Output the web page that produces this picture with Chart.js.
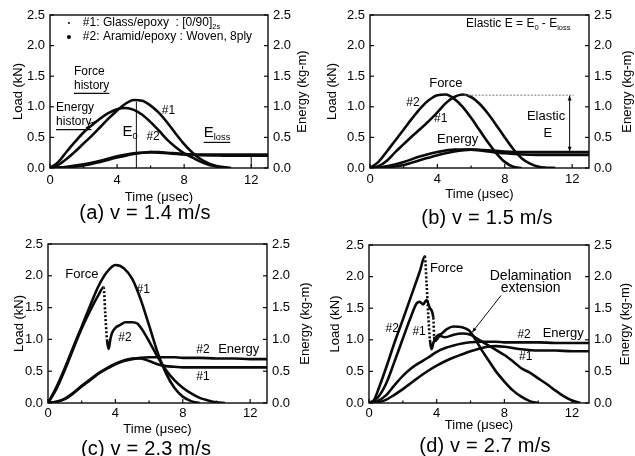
<!DOCTYPE html>
<html><head><meta charset="utf-8">
<script src="https://cdn.jsdelivr.net/npm/chart.js@4"></script>
<style>
html,body{margin:0;padding:0;background:#fff;}
body{width:635px;height:456px;position:relative;overflow:hidden;font-family:"Liberation Sans",Arial,Helvetica,sans-serif;}
canvas{position:absolute;}
.cap{position:absolute;font-size:20px;letter-spacing:0.2px;line-height:1;color:#000;white-space:nowrap;transform:translate(-50%,-50%);}
</style></head><body>
<canvas id="ca" width="318" height="205" style="left:0;top:0"></canvas>
<canvas id="cb" width="317" height="205" style="left:318px;top:0"></canvas>
<canvas id="cc" width="318" height="210" style="left:0;top:228px"></canvas>
<canvas id="cd" width="317" height="210" style="left:318px;top:228px"></canvas>
<div class="cap" style="left:145px;top:212px">(a) v = 1.4 m/s</div>
<div class="cap" style="left:487px;top:217px">(b) v = 1.5 m/s</div>
<div class="cap" style="left:146px;top:448px">(c) v = 2.3 m/s</div>
<div class="cap" style="left:485px;top:445px">(d) v = 2.7 m/s</div>
<script>
// ---------------- data (time in µsec, load in kN, energy in kg-m) ----------------
const xTickValues = [0, 4, 8, 12];
const xMinorTicks = [2, 6, 10];
const yTickValues = [0, 0.5, 1.0, 1.5, 2.0, 2.5];

// (a) v = 1.4 m/s
const tForceA  = [0,0.5,1,1.5,2,2.5,3,3.5,4,4.5,5,5.5,6,6.5,7,7.5,8,8.5,9,9.5,10,10.5,10.8];
const forceA1  = [0,0.05,0.15,0.27,0.40,0.53,0.67,0.81,0.94,1.05,1.11,1.10,1.02,0.90,0.74,0.56,0.39,0.25,0.14,0.07,0.03,0.01,0];
const forceA2  = [0,0.10,0.27,0.43,0.58,0.70,0.81,0.90,0.96,0.98,0.95,0.87,0.75,0.61,0.46,0.34,0.24,0.17,0.10,0.05,0.02,0,null];
const tEnergyA = [0,1,2,3,4,5,5.5,6,6.5,7,8,9,10,11,12,13];
const energyA1 = [0,0.01,0.04,0.10,0.17,0.23,0.25,0.26,0.26,0.25,0.23,0.22,0.22,0.22,0.22,0.22];
const energyA2 = [0,0.02,0.06,0.12,0.19,0.24,0.25,0.26,0.25,0.24,0.22,0.21,0.205,0.2,0.2,0.2];

// (b) v = 1.5 m/s
const tForceB  = [0,0.5,1,1.5,2,2.5,3,3.5,4,4.5,5,5.5,6,6.5,7,7.5,8,8.5,9,9.5,10,10.5,11];
const forceB1  = [0,0.03,0.12,0.26,0.39,0.52,0.64,0.77,0.91,1.06,1.16,1.20,1.16,1.05,0.89,0.70,0.50,0.31,0.16,0.07,0.02,0.005,0];
const forceB2  = [0,0.10,0.27,0.45,0.63,0.81,0.98,1.11,1.19,1.20,1.13,1.00,0.82,0.62,0.42,0.24,0.10,0.02,0,null,null,null,null];
const tEnergyB = [0,1,2,3,4,5,6,7,8,9,10,11,12,13];
const energyB1 = [0,0.01,0.05,0.13,0.21,0.27,0.30,0.29,0.27,0.26,0.26,0.26,0.26,0.26];
const energyB2 = [0,0.03,0.10,0.19,0.26,0.30,0.30,0.27,0.24,0.22,0.215,0.215,0.215,0.215];

// (c) v = 2.3 m/s
const tForceC1 = [0,0.5,1,1.5,2,2.5,3,3.5,4,4.5,5,5.5,6,6.5,7,7.5,8,8.5,9];
const forceC1  = [0,0.25,0.55,0.88,1.20,1.53,1.84,2.06,2.17,2.12,1.95,1.63,1.22,0.80,0.47,0.24,0.10,0.03,0];
const tForceC2 = [0,0.5,1,1.5,2,2.5,3,3.3,3.4,3.5,3.6,3.7,3.8,4,4.3,4.6,5,5.3,5.6,6,6.5,7,7.5,8,8.5,9,9.5,10,10.5];
const forceC2  = [0,0.22,0.52,0.85,1.17,1.45,1.70,1.82,1.40,1.00,0.85,1.00,1.10,1.18,1.23,1.27,1.27,1.25,1.15,0.97,0.73,0.52,0.36,0.24,0.15,0.08,0.04,0.01,0];
const tEnergyC = [0,0.5,1,1.5,2,2.5,3,3.5,4,4.5,5,5.5,6,6.5,7,7.5,8,9,10,11,12,13];
const energyC1 = [0,0.02,0.07,0.16,0.27,0.37,0.47,0.55,0.62,0.67,0.70,0.70,0.66,0.61,0.58,0.57,0.56,0.56,0.56,0.56,0.56,0.56];
const energyC2 = [0,0.02,0.06,0.15,0.26,0.36,0.46,0.54,0.61,0.66,0.69,0.71,0.72,0.72,0.72,0.72,0.71,0.71,0.70,0.70,0.69,0.69];

// (d) v = 2.7 m/s
const tForceD1 = [0,0.5,1,1.5,2,2.5,2.8,3,3.2,3.4,3.6,3.8,3.85,3.9,4.2,4.5,5,5.5,6,6.5,7,7.5,8,8.5,9,9.5,10,10.5,11,11.5,12,12.5];
const forceD1  = [0,0.08,0.30,0.65,1.02,1.38,1.57,1.60,1.56,1.63,1.50,1.35,1.05,0.98,1.06,1.04,1.08,1.10,1.08,1.00,0.92,0.84,0.76,0.66,0.55,0.48,0.39,0.30,0.20,0.11,0.04,0];
const tForceD2 = [0,0.3,0.6,1,1.5,2,2.5,3,3.3,3.4,3.5,3.6,3.7,3.8,4,4.3,4.6,5,5.5,5.9,6.3,6.7,7,7.5,8,8.5,9,9.5,10];
const forceD2  = [0,0.05,0.25,0.55,0.95,1.32,1.70,2.08,2.32,1.90,1.40,1.00,0.85,0.95,1.05,1.10,1.17,1.21,1.20,1.15,1.00,0.82,0.70,0.50,0.34,0.20,0.10,0.03,0];
const tEnergyD = [0,0.5,1,1.5,2,2.5,3,3.5,4,4.5,5,5.5,6,6.5,7,7.5,8,8.5,9,10,11,12,13];
const energyD1 = [0,0.01,0.05,0.13,0.22,0.32,0.42,0.51,0.59,0.66,0.72,0.77,0.82,0.86,0.89,0.90,0.89,0.87,0.85,0.83,0.83,0.82,0.82];
const energyD2 = [0,0.03,0.12,0.28,0.43,0.55,0.64,0.72,0.81,0.87,0.91,0.94,0.96,0.97,0.97,0.97,0.96,0.96,0.96,0.96,0.95,0.95,0.95];

// ---------------- annotations (data units) ----------------
const notesA = [
  {t:1.96, v:2.37, parts:[['#1: Glass/epoxy  : [0/90]'],['2s','sub']], size:12},
  {t:1.96, v:2.14, parts:[['#2: Aramid/epoxy : Woven, 8ply']], size:12},
  {t:1.43, v:1.57, parts:[['Force']], size:12},
  {t:1.43, v:1.34, parts:[['history']], size:12, underline:true},
  {t:0.36, v:0.98, parts:[['Energy']], size:12},
  {t:0.36, v:0.75, parts:[['history']], size:12, underline:true},
  {t:6.67, v:0.93, parts:[['#1']], size:12},
  {t:4.33, v:0.59, parts:[['E'],['0','sub']], size:15},
  {t:5.75, v:0.51, parts:[['#2']], size:12},
  {t:9.17, v:0.57, parts:[['E'],['loss','sub']], size:15, underline:true}
];
const dotsA = [{t:1.13, v:2.37, r:1}, {t:1.13, v:2.14, r:2}];
const linesA = [
  {pts:[[5.15,0],[5.15,1.08]], w:1},
  {pts:[[12,0],[12,0.21]], w:1},
  {pts:[[2.3,0.72],[2.9,0.78]], w:1}
];
const notesB = [
  {t:5.7, v:2.35, parts:[['Elastic E = E'],['0','sub'],[' - E'],['loss','sub']], size:12},
  {t:4.5, v:1.39, parts:[['Force']], size:13, align:'center'},
  {t:2.55, v:1.06, parts:[['#2']], size:12, align:'center'},
  {t:4.2, v:0.81, parts:[['#1']], size:12, align:'center'},
  {t:5.2, v:0.46, parts:[['Energy']], size:13, align:'center'},
  {t:10.45, v:0.84, parts:[['Elastic']], size:13, align:'center'},
  {t:10.55, v:0.57, parts:[['E']], size:13, align:'center'}
];
const linesB = [
  {pts:[[5.6,1.19],[12.1,1.19]], w:1, dash:[2,1.5], color:'#777'},
  {pts:[[11.85,0.27],[11.85,1.18]], w:1, arrows:true}
];
const notesC = [
  {t:1.03, v:2.02, parts:[['Force']], size:13},
  {t:5.26, v:1.78, parts:[['#1']], size:12},
  {t:4.17, v:1.02, parts:[['#2']], size:12},
  {t:8.8, v:0.84, parts:[['#2']], size:12},
  {t:10.1, v:0.84, parts:[['Energy']], size:13},
  {t:8.8, v:0.42, parts:[['#1']], size:12}
];
const notesD = [
  {t:3.6, v:2.13, parts:[['Force']], size:13},
  {t:9.55, v:2.0, parts:[['Delamination']], size:14, align:'center'},
  {t:9.55, v:1.81, parts:[['extension']], size:14, align:'center'},
  {t:1.37, v:1.18, parts:[['#2']], size:12, align:'center'},
  {t:2.96, v:1.13, parts:[['#1']], size:12, align:'center'},
  {t:8.77, v:1.08, parts:[['#2']], size:12},
  {t:10.26, v:1.10, parts:[['Energy']], size:13},
  {t:8.87, v:0.73, parts:[['#1']], size:12}
];
const linesD = [
  {pts:[[7.8,1.70],[6.1,1.12]], w:1, arrowEnd:true}
];

// ---------------- drawing ----------------
const FONT = '"Liberation Sans", Arial, Helvetica, sans-serif';
const INK = '#0a0a0a';
function fontStr(size){ return size + 'px ' + FONT; }
function pts(t, v){ const out=[]; t.forEach((x,i)=>{ if(v[i]!=null) out.push({x:x, y:v[i]}); }); return out; }
function steep(ctx){ const a=ctx.p0.parsed, b=ctx.p1.parsed; return (a.y-b.y)/(b.x-a.x) > 2.5; }
function curve(t, v, axis){
  return {data:pts(t,v), yAxisID:axis, borderColor:INK, borderWidth:2.6, pointRadius:0, fill:false,
    cubicInterpolationMode:'monotone', segment:{borderDash: ctx => steep(ctx) ? [2,2] : undefined}};
}

function drawParts(ctx, parts, x, y, size, align){
  const ws = parts.map(p => { ctx.font = fontStr(p[1]==='sub' ? size*0.62 : size); return ctx.measureText(p[0]).width; });
  const total = ws.reduce((a,b)=>a+b,0);
  let cx = align==='center' ? x - total/2 : x;
  const start = cx;
  ctx.textAlign='left'; ctx.textBaseline='middle';
  parts.forEach((p,i)=>{
    const sub = p[1]==='sub';
    ctx.font = fontStr(sub ? size*0.62 : size);
    ctx.fillText(p[0], cx, sub ? y + size*0.32 : y);
    cx += ws[i];
  });
  return {left:start, width:total};
}
function seg(ctx,x1,y1,x2,y2){ ctx.beginPath(); ctx.moveTo(x1,y1); ctx.lineTo(x2,y2); ctx.stroke(); }
function arrowHead(ctx, x1,y1,x2,y2){
  const ang=Math.atan2(y2-y1,x2-x1), L=5;
  ctx.beginPath(); ctx.moveTo(x2,y2);
  ctx.lineTo(x2-L*Math.cos(ang-0.4), y2-L*Math.sin(ang-0.4));
  ctx.lineTo(x2-L*Math.cos(ang+0.4), y2-L*Math.sin(ang+0.4));
  ctx.closePath(); ctx.fill();
}

function makeDecor(P){
  return {id:'decor', afterDraw(chart){
    const {ctx, chartArea:a} = chart; const x=chart.scales.x, y=chart.scales.y;
    ctx.save();
    ctx.strokeStyle=INK; ctx.fillStyle='#000';
    ctx.lineWidth=1.4;
    ctx.strokeRect(a.left, a.top, a.right-a.left, a.bottom-a.top);
    ctx.lineWidth=1.2;
    yTickValues.forEach(v=>{ const py=y.getPixelForValue(v); seg(ctx,a.left,py,a.left+4,py); seg(ctx,a.right-4,py,a.right,py); });
    xTickValues.forEach(v=>{ const px=x.getPixelForValue(v); seg(ctx,px,a.bottom,px,a.bottom-4); });
    xMinorTicks.forEach(v=>{ const px=x.getPixelForValue(v); seg(ctx,px,a.bottom,px,a.bottom-2.5); });
    (P.lines||[]).forEach(L=>{
      ctx.save(); ctx.lineWidth=L.w; ctx.strokeStyle=L.color||INK; ctx.fillStyle=L.color||INK;
      if(L.dash) ctx.setLineDash(L.dash);
      const p = L.pts.map(q=>[x.getPixelForValue(q[0]), y.getPixelForValue(q[1])]);
      ctx.beginPath(); ctx.moveTo(p[0][0],p[0][1]); for(let i=1;i<p.length;i++) ctx.lineTo(p[i][0],p[i][1]); ctx.stroke();
      ctx.setLineDash([]);
      if(L.arrows){ arrowHead(ctx,p[1][0],p[1][1],p[0][0],p[0][1]); arrowHead(ctx,p[0][0],p[0][1],p[1][0],p[1][1]); }
      if(L.arrowEnd){ arrowHead(ctx,p[0][0],p[0][1],p[1][0],p[1][1]); }
      ctx.restore();
    });
    (P.dots||[]).forEach(d=>{ ctx.beginPath(); ctx.arc(x.getPixelForValue(d.t), y.getPixelForValue(d.v), d.r, 0, Math.PI*2); ctx.fill(); });
    (P.notes||[]).forEach(n=>{
      const px=x.getPixelForValue(n.t), py=y.getPixelForValue(n.v);
      const r = drawParts(ctx, n.parts, px, py, n.size, n.align);
      if(n.underline){ ctx.lineWidth=1.2; seg(ctx, r.left, py+n.size*0.62, r.left+r.width, py+n.size*0.62); }
    });
    const midY=(a.top+a.bottom)/2, midX=(a.left+a.right)/2;
    ctx.font=fontStr(13); ctx.textAlign='center'; ctx.textBaseline='middle';
    ctx.save(); ctx.translate(P.lTx, midY); ctx.rotate(-Math.PI/2); ctx.fillText('Load (kN)',0,0); ctx.restore();
    ctx.save(); ctx.translate(P.rTx, midY); ctx.rotate(-Math.PI/2); ctx.fillText('Energy (kg-m)',0,0); ctx.restore();
    ctx.font=fontStr(13); ctx.fillText('Time (\u03bcsec)', midX, P.xTy);
    ctx.restore();
  }};
}

function yAxis(pos, width){
  return {position:pos, min:0, max:2.5,
    afterBuildTicks: s=>{ s.ticks = yTickValues.map(v=>({value:v})); },
    ticks:{color:'#000', font:{family:FONT, size:13}, padding:5, callback:v=>Number(v).toFixed(1)},
    grid:{display:false, drawTicks:false, tickLength:0}, border:{display:false}, afterFit: s=>{ s.width = width; }};
}

function build(P){
  new Chart(document.getElementById(P.id), {
    type:'line',
    data:{datasets: P.series.map(s=>curve(s[0], s[1], s[2]))},
    options:{
      responsive:false, animation:false, devicePixelRatio:1,
      layout:{padding:{top:P.padTop, left:0, right:0, bottom:0}},
      plugins:{legend:{display:false}, tooltip:{enabled:false}},
      scales:{
        x:{type:'linear', min:0, max:13,
          afterBuildTicks: s=>{ s.ticks = xTickValues.map(v=>({value:v})); },
          ticks:{color:'#000', font:{family:FONT, size:13}, padding:P.xPad, maxRotation:0, autoSkip:false, callback:v=>String(v)},
          grid:{display:false, drawTicks:false, tickLength:0}, border:{display:false}, afterFit: s=>{ s.height = P.xH; }},
        y: yAxis('left', P.yLW),
        y2: yAxis('right', P.yRW)
      }
    },
    plugins:[makeDecor(P)]
  });
}

build({id:'ca', padTop:15, yLW:50, yRW:50, xH:37, xPad:5, lTx:18, rTx:302, xTy:197,
  series:[[tForceA,forceA1,'y'],[tForceA,forceA2,'y'],[tEnergyA,energyA1,'y2'],[tEnergyA,energyA2,'y2']],
  notes:notesA, dots:dotsA, lines:linesA});
build({id:'cb', padTop:15, yLW:52, yRW:46, xH:37, xPad:4, lTx:14, rTx:309, xTy:194,
  series:[[tForceB,forceB1,'y'],[tForceB,forceB2,'y'],[tEnergyB,energyB1,'y2'],[tEnergyB,energyB2,'y2']],
  notes:notesB, lines:linesB});
build({id:'cc', padTop:16, yLW:48, yRW:51, xH:35, xPad:3, lTx:19, rTx:305, xTy:201,
  series:[[tForceC1,forceC1,'y'],[tForceC2,forceC2,'y'],[tEnergyC,energyC1,'y2'],[tEnergyC,energyC2,'y2']],
  notes:notesC});
build({id:'cd', padTop:17, yLW:51, yRW:46, xH:35, xPad:3, lTx:17, rTx:307, xTy:197,
  series:[[tForceD1,forceD1,'y'],[tForceD2,forceD2,'y'],[tEnergyD,energyD1,'y2'],[tEnergyD,energyD2,'y2']],
  notes:notesD, lines:linesD});
</script>
</body></html>
